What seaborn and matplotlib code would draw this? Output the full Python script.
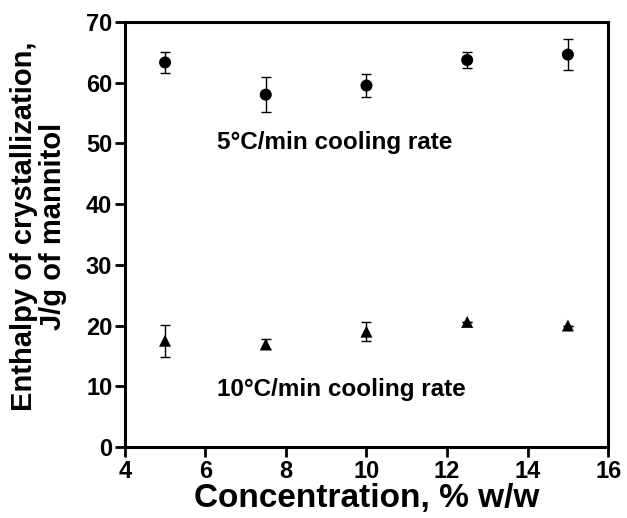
import numpy as np
import pandas as pd
import seaborn as sns
import matplotlib.pyplot as plt

# Values
conc = [5, 7.5, 10, 12.5, 15]
enth_5 = [63.3, 58.0, 59.5, 63.7, 64.6]
err_5 = [1.7, 2.9, 1.9, 1.3, 2.6]
enth_10 = [17.5, 16.9, 19.0, 20.6, 20.0]
err_10 = [2.6, 0.8, 1.5, 0.0, 0.0]

df = pd.DataFrame({
    "conc": conc * 2,
    "enthalpy": enth_5 + enth_10,
    "err": err_5 + err_10,
    "rate": ["5"] * 5 + ["10"] * 5,
})

sns.set_style("ticks")
plt.rcParams['font.family'] = ['Liberation Sans', 'DejaVu Sans']
plt.rcParams['font.weight'] = 'bold'
plt.rcParams['text.color'] = 'black'
plt.rcParams['axes.labelcolor'] = 'black'

fig = plt.figure(figsize=(6.27, 5.18), dpi=100)
ax = fig.add_axes([0.199, 0.137, 0.771, 0.821])

# error bars
for rate in ["5", "10"]:
    sub = df[df.rate == rate]
    ax.errorbar(sub.conc, sub.enthalpy, yerr=sub.err, fmt="none",
                ecolor="black", elinewidth=1.0, capsize=3.5, capthick=1.0, zorder=2)

sns.scatterplot(data=df, x="conc", y="enthalpy", style="rate",
                markers={"5": "o", "10": "^"}, color="black", s=75,
                edgecolor="black", linewidth=0, legend=False, ax=ax, zorder=3)

ax.text(6.3, 50.1, "5°C/min cooling rate", fontsize=17.5, fontweight="bold", va="center")
ax.text(6.3, 9.4, "10°C/min cooling rate", fontsize=17.5, fontweight="bold", va="center")

ax.set_xlim(4, 16)
ax.set_ylim(0, 70)
ax.set_xticks(np.arange(4, 17, 2))
ax.set_yticks(np.arange(0, 71, 10))
ax.set_xlabel("Concentration, % w/w", fontsize=24, fontweight="bold", labelpad=0)
ax.set_ylabel("Enthalpy of crystallization,\nJ/g of mannitol", fontsize=21,
              fontweight="bold", linespacing=1.05)
ax.yaxis.set_label_coords(-0.12, 0.52)

for s in ax.spines.values():
    s.set_linewidth(2.2)
    s.set_color("black")
ax.tick_params(direction="out", length=7, width=2, labelsize=17, colors="black", pad=2)
for lab in ax.get_xticklabels() + ax.get_yticklabels():
    lab.set_fontweight("bold")

fig.savefig("out.png", dpi=100)
